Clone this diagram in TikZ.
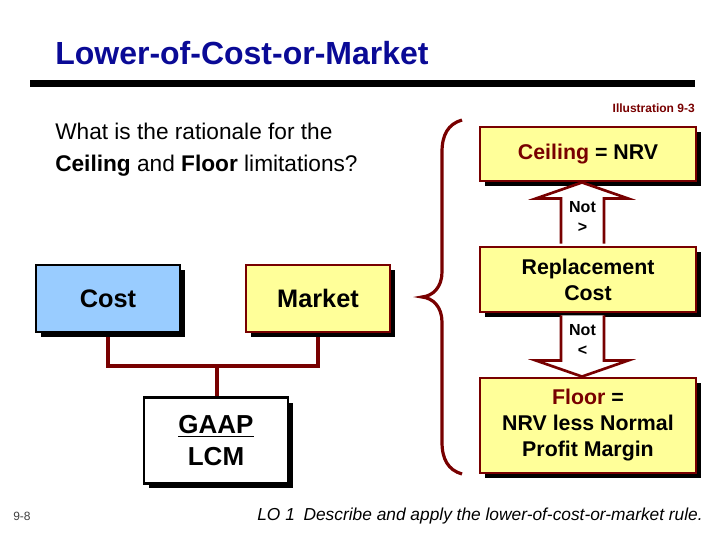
\documentclass[tikz,border=0pt]{standalone}
\usepackage{fontspec}
\setmainfont{Liberation Sans}
\usetikzlibrary{shadows,calc}
\definecolor{mymaroon}{RGB}{120,0,0}
\definecolor{titleblue}{RGB}{10,10,150}
\definecolor{boxyellow}{RGB}{255,255,153}
\definecolor{boxblue}{RGB}{153,204,255}
\begin{document}
\begin{tikzpicture}[x=0.75pt,y=-0.75pt,
  box/.style={draw, line width=2.2pt, inner sep=0pt, align=center,
    general shadow={fill=black, shadow xshift=3.6pt, shadow yshift=-3.6pt}},
  ybox/.style={box, draw=mymaroon, fill=boxyellow},
  conn/.style={draw=mymaroon, line width=3pt},
  blockarrow/.style={draw=mymaroon, fill=white, line width=2pt, line join=miter},
  brace/.style={draw=mymaroon, line width=2.4pt},
  plain/.style={inner sep=0pt, align=center}]
\useasboundingbox (0,0) rectangle (720,540);

% title
\node[plain, anchor=west, text=titleblue, font=\fontsize{24}{28}\selectfont\bfseries] (title) at (55,53) {Lower-of-Cost-or-Market};
\coordinate (ruleL) at (30,83.5);
\coordinate (ruleR) at (695,83.5);
\draw[line width=4.8pt] (ruleL) -- (ruleR);

\node[plain, anchor=east, text=mymaroon, font=\fontsize{9}{11}\selectfont\bfseries] (illus) at (695,108) {Illustration 9-3};

% question
\node[plain, anchor=west, font=\fontsize{17}{20}\selectfont] (q1) at (55,131) {What is the rationale for the};
\node[plain, anchor=west, font=\fontsize{17}{20}\selectfont] (q2) at (55,166) {\textbf{Ceiling} and \textbf{Floor} limitations?};

% connectors (left)
\coordinate (j) at (216.5,366);
\draw[conn] (108,320) |- (j) -| (318,320);
\draw[conn] (j) -- (216.5,410);

% left boxes
\node[box, fill=boxblue, minimum width=108pt, minimum height=50.25pt, font=\fontsize{19}{22}\selectfont\bfseries] (cost) at (108,298.5) {Cost};
\node[ybox, minimum width=108pt, minimum height=50.25pt, font=\fontsize{19}{22}\selectfont\bfseries] (market) at (318,298.5) {Market};
\node[box, fill=white, minimum width=108pt, minimum height=64pt, font=\fontsize{19.5}{23.5}\selectfont\bfseries] (gaap) at (216,440.5) {\underline{GAAP}\\LCM};

% brace
\draw[brace] (462,120) .. controls (448,124) and (442,135) .. (442,152)
  -- (442,272) .. controls (442,287) and (433,296) .. (422,297)
  .. controls (433,298) and (442,307) .. (442,322)
  -- (442,442) .. controls (442,459) and (448,470) .. (462,474);

% right boxes
\node[ybox, minimum width=162pt, minimum height=40.5pt, font=\fontsize{16}{19.5}\selectfont\bfseries] (ceil) at (588,154) {\textcolor{mymaroon}{Ceiling} = NRV};
\node[ybox, minimum width=162pt, minimum height=48.75pt, font=\fontsize{16}{19.5}\selectfont\bfseries] (repl) at (588,279.5) {Replacement\\Cost};
\node[ybox, minimum width=162pt, minimum height=71.25pt, font=\fontsize{16}{19.5}\selectfont\bfseries] (floor) at (588,425.5) {\textcolor{mymaroon}{Floor} =\\NRV less Normal\\Profit Margin};

% block arrows
\coordinate (ut) at ($(ceil.south)+(-6,0)$);
\coordinate (ub) at ($(repl.north)+(-6,-2)$);
\draw[blockarrow] ($(ub)+(-21,0)$) -- ($(ut)+(-21,16)$) -- ($(ut)+(-46,16)$) -- (ut)
  -- ($(ut)+(46,16)$) -- ($(ut)+(22,16)$) -- ($(ub)+(22,0)$);
\coordinate (lt) at ($(floor.north)+(-6,0)$);
\coordinate (lb) at ($(repl.south)+(-6,2)$);
\draw[blockarrow] ($(lb)+(-21,0)$) -- ($(lt)+(-21,-16)$) -- ($(lt)+(-46,-16)$) -- (lt)
  -- ($(lt)+(46,-16)$) -- ($(lt)+(22,-16)$) -- ($(lb)+(22,0)$);
\node[plain, font=\fontsize{12}{15}\selectfont\bfseries] (not1) at (582.5,217) {Not\\>};
\node[plain, font=\fontsize{12}{15}\selectfont\bfseries] (not2) at (582.5,340) {Not\\<};

% footer
\node[plain, anchor=west, text=black!75, font=\fontsize{9}{11}\selectfont] (pg) at (13,516) {9-8};
\node[plain, anchor=east, font=\fontsize{13}{15}\selectfont\itshape] (lo) at (703,516) {LO 1\hspace{0.5em}Describe and apply the lower-of-cost-or-market rule.};
\end{tikzpicture}
\end{document}
